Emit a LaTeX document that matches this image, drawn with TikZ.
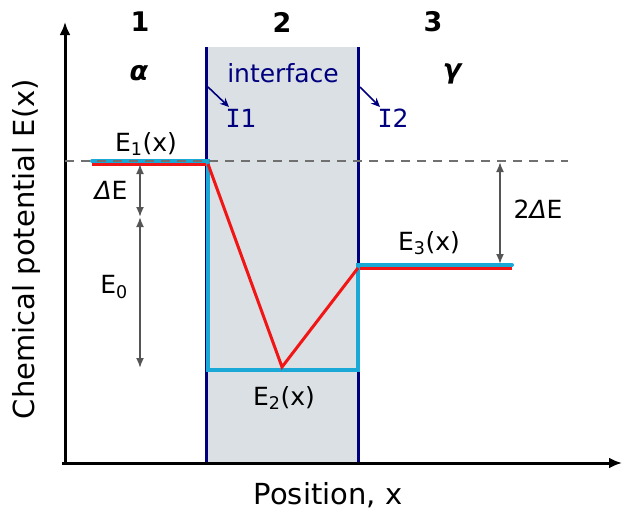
\documentclass[tikz,border=0pt]{standalone}
\usepackage{fontspec}
\setmainfont{DejaVu Sans}
\newfontfamily\serifI{DejaVu Sans Mono}
\usetikzlibrary{arrows.meta}
\definecolor{navy}{HTML}{00007F}
\definecolor{cyanline}{HTML}{1AA8D6}
\definecolor{redline}{HTML}{F21515}
\definecolor{ifill}{HTML}{DAE0E3}
\definecolor{garrow}{HTML}{555555}
\definecolor{gdash}{HTML}{707070}
\tikzset{
  lbl/.style={font=\fontsize{25}{28}\selectfont, inner sep=0pt},
  axlbl/.style={font=\fontsize{29}{32}\selectfont, inner sep=0pt},
  num/.style={font=\fontsize{27}{30}\selectfont\bfseries, inner sep=0pt},
  greek/.style={font=\fontsize{27}{30}\selectfont\bfseries\itshape, inner sep=0pt},
  navylbl/.style={lbl, text=navy},
  axisline/.style={line width=3pt, -{Latex[length=13pt,width=11pt]}},
  border/.style={navy, line width=3pt},
  cyanpath/.style={cyanline, line width=4pt},
  redpath/.style={redline, line width=3pt},
  dim/.style={garrow, line width=1.8pt, {Latex[length=10pt,width=8pt]}-{Latex[length=10pt,width=8pt]}},
  pointer/.style={navy, line width=1.6pt, -{Stealth[length=9pt,width=8pt]}},
}
\begin{document}
\begin{tikzpicture}[x=1pt,y=-1pt]
\useasboundingbox (0,0) rectangle (624,514);
% key coordinates
\coordinate (ytop) at (65,22);
\coordinate (ybot) at (65,465);
\coordinate (xstart) at (62,463);
\coordinate (xend) at (622,463);
\coordinate (ia) at (206,47);
\coordinate (ib) at (358,463);
\coordinate (la) at (206,47);
\coordinate (lb) at (206,463);
\coordinate (ra) at (358,47);
\coordinate (rb) at (358,463);
% interface region
\fill[ifill] (ia) rectangle (ib);
\draw[border] (la) -- (lb);
\draw[border] (ra) -- (rb);
% axes
\draw[axisline] (xstart) -- (xend);
\draw[axisline] (ybot) -- (ytop);
% energy levels
\coordinate (e1a) at (92,161);
\coordinate (e1b) at (208,161);
\coordinate (e2a) at (208,370);
\coordinate (e2b) at (358,370);
\coordinate (e3a) at (358,265);
\coordinate (e3b) at (512,265);
\coordinate (r1a) at (92,164);
\coordinate (r1b) at (208,164);
\coordinate (rmin) at (282,367);
\coordinate (r3a) at (358,268);
\coordinate (r3b) at (512,268);
\draw[redpath] (r1a) -- (r1b);
\draw[redpath] (r3a) -- (r3b);
\draw[cyanpath, line cap=round] (e1a) -- (e1b) -- (e2a) -- (e2b) -- (e3a) -- (e3b);
\draw[redpath, line join=miter] (r1b) -- (rmin) -- (r3a);
% dashed reference
\coordinate (da) at (65,161);
\coordinate (db) at (568,161);
\draw[gdash, line width=1.8pt, dash pattern=on 9pt off 7pt] (da) -- (db);
% dimension arrows
\coordinate (d1) at (140,164);
\coordinate (d2) at (140,217);
\coordinate (d3) at (140,368);
\draw[dim] (d1) -- (d2);
\draw[dim] (d2) -- (d3);
\coordinate (d4) at (500,162);
\coordinate (d5) at (500,264);
\draw[dim] (d4) -- (d5);
% labels
\node[num] (n1) at (140,22) {1};
\node[num] (n2) at (282,22) {2};
\node[num] (n3) at (433,22) {3};
\node[greek] (alpha) at (139,73) {α};
\node[greek] (gamma) at (452,74) {γ};
\node[navylbl] (intf) at (283,73) {interface};
\node[navylbl] (I1) at (241,118) {{\serifI I}1};
\node[navylbl] (I2) at (393,118) {{\serifI I}2};
\coordinate (p1) at (208,87);
\coordinate (p2) at (360,87);
\coordinate (q1) at (229,107);
\coordinate (q2) at (380,107);
\draw[pointer] (p1) -- (q1);
\draw[pointer] (p2) -- (q2);
\node[lbl] (E1) at (146,144) {E\textsubscript{1}(x)};
\node[lbl] (E2) at (284,398) {E\textsubscript{2}(x)};
\node[lbl] (E3) at (429,243) {E\textsubscript{3}(x)};
\node[lbl] (dE) at (111,190) {{\itshape Δ}E};
\node[lbl] (E0) at (114,287) {E\textsubscript{0}};
\node[lbl] (ddE) at (538,209) {2{\itshape Δ}E};
\node[axlbl, rotate=90] (ylab) at (26,249) {Chemical potential E(x)};
\node[axlbl, anchor=base] (xlab) at (328,504) {Position, x};
\end{tikzpicture}
\end{document}
